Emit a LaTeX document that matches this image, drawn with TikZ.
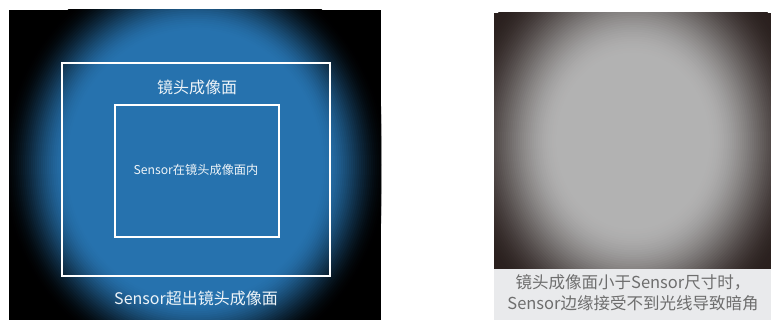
\documentclass[tikz,border=0pt]{standalone}
\usepackage{fontspec}
\setmainfont{Noto Sans CJK SC}
\definecolor{glowblue}{HTML}{2672AE}
\definecolor{vlight}{HTML}{B2B2B2}
\definecolor{vedge}{HTML}{2A201E}
\definecolor{capbg}{HTML}{E9EAEC}
\definecolor{captext}{HTML}{6E6E6E}
\definecolor{labeltext}{HTML}{EEF4F8}
\tikzset{
  frame/.style={draw=white, line width=1.8pt, inner sep=0pt},
  lbl/.style={text=labeltext, inner sep=0pt, font=\fontsize{16}{19}\selectfont},
  smalllbl/.style={text=labeltext, inner sep=0pt, font=\fontsize{12.2}{14}\selectfont},
  captionstyle/.style={text=captext, inner sep=0pt, align=center, font=\fontsize{16.5}{21}\selectfont}
}
\begin{document}
\begin{tikzpicture}[x=1pt, y=-1pt]
\useasboundingbox (0,0) rectangle (771,320);
\fill[white] (0,0) rectangle (771,320);
% left panel: black with blue glow
\begin{scope}
  \clip (9,10) rectangle (381,320);
  \fill[black] (9,10) rectangle (381,320);
  \foreach \i in {0,...,34}{
    \pgfmathsetmacro\r{194-2*\i}
    \pgfmathsetmacro\t{\i/34}
    \pgfmathsetmacro\p{100*(3*\t*\t-2*\t*\t*\t)}
    \fill[glowblue!\p!black] (195,165) ellipse [x radius=\r, y radius=1.06*\r];
  }
\end{scope}
\node[frame, minimum width=268pt, minimum height=213pt] (outer) at (196,169.5) {};
\node[frame, minimum width=164pt, minimum height=132pt] (inner) at (197,171) {};
\node[lbl] (outerlbl) at (197,87) {镜头成像面};
\node[smalllbl] (innerlbl) at (196,170) {Sensor在镜头成像面内};
\node[lbl] (bottomlbl) at (196,298) {Sensor超出镜头成像面};
% right panel: grey vignette
\begin{scope}
  \clip (494,13) rectangle (771,269);
  \fill[vedge] (494,13) rectangle (771,269);
  \foreach \i in {0,...,50}{
    \pgfmathsetmacro\r{175-2*\i}
    \pgfmathsetmacro\t{\i/50}
    \pgfmathsetmacro\p{100*(3*\t*\t-2*\t*\t*\t)}
    \fill[vlight!\p!vedge] (633,141) ellipse [x radius=\r, y radius=1.15*\r];
  }
\end{scope}
\fill[capbg] (494,269) rectangle (771,320);
\node[captionstyle] (caption) at (633,293) {镜头成像面小于Sensor尺寸时，\\Sensor边缘接受不到光线导致暗角};
\end{tikzpicture}
\end{document}
